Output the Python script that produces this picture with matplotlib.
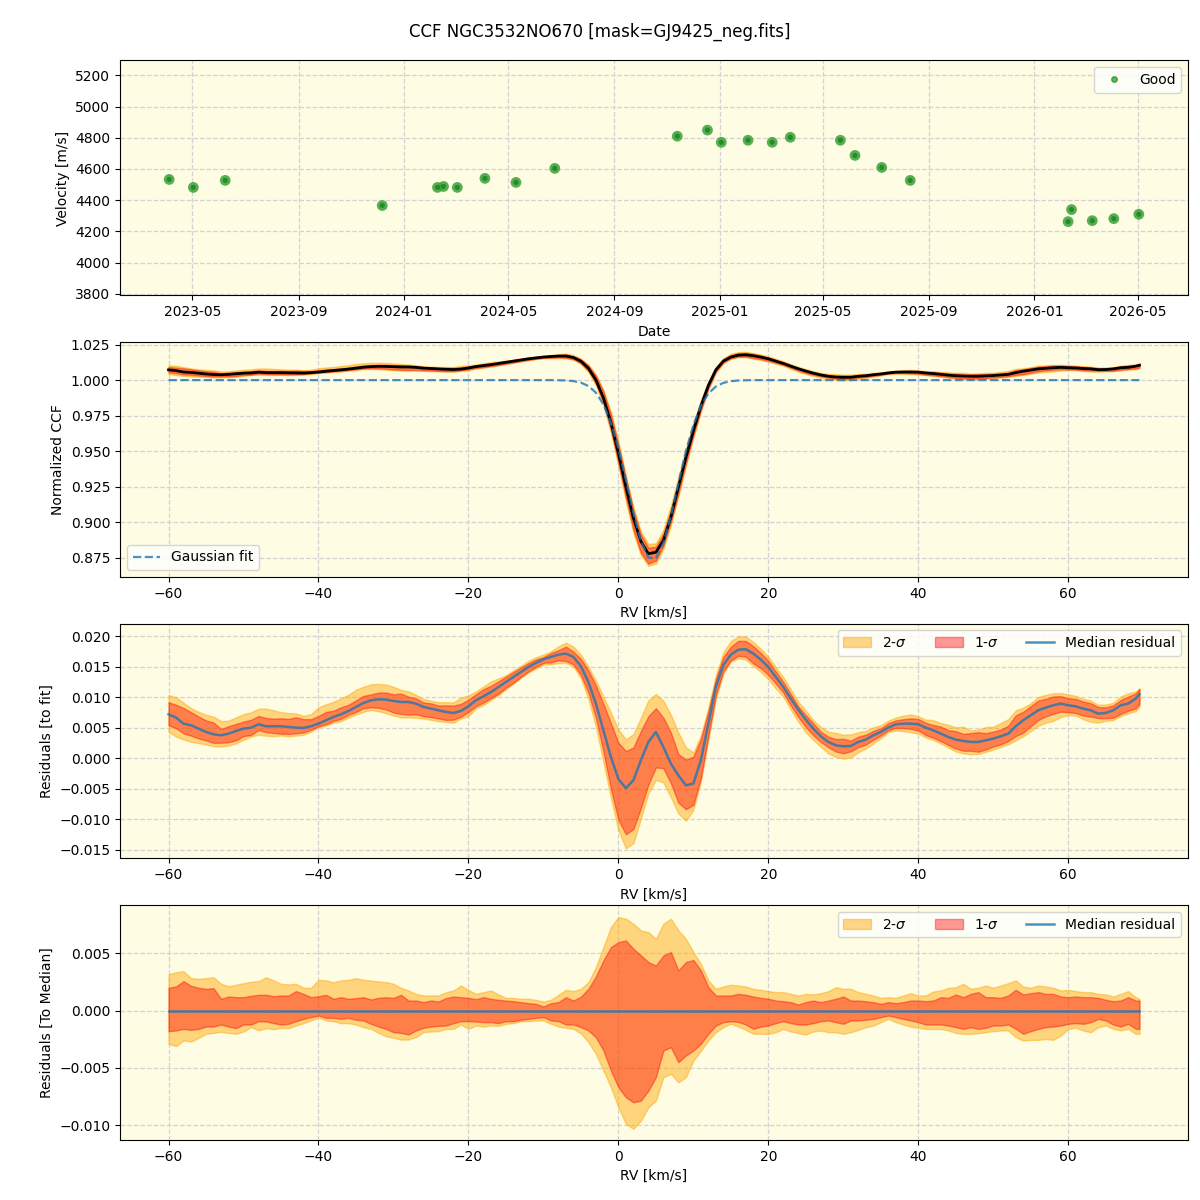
"""
CCF 진단 플롯 - 속도 시계열 + CCF + 잔차 (4단)
"""

import numpy as np
import matplotlib
matplotlib.use('Agg')
import matplotlib.pyplot as plt
import matplotlib.dates as mdates
from matplotlib.lines import Line2D

# ---- 패널 1: 시간별 시선속도 ----
obs_dates = ['2023-04-04', '2023-05-02', '2023-06-08', '2023-12-07', '2024-02-09',
             '2024-02-16', '2024-03-03', '2024-04-04', '2024-05-10', '2024-06-24',
             '2024-11-13', '2024-12-18', '2025-01-03', '2025-02-03', '2025-03-03',
             '2025-03-24', '2025-05-21', '2025-06-07', '2025-07-08', '2025-08-10',
             '2026-02-09', '2026-02-13', '2026-03-09', '2026-04-03', '2026-05-02']
obs_vel = [4533, 4482, 4527, 4366, 4482,
           4488, 4482, 4540, 4514, 4604,
           4810, 4849, 4771, 4784, 4771,
           4803, 4784, 4687, 4610, 4527,
           4263, 4340, 4269, 4282, 4310]

# ---- RV 격자 (km/s) ----
rv = np.append(np.arange(-60, 70, 1.0), 69.5)

# 가우시안 피팅 (연속체 1.0, 흡수선 부분만 값 기록)
fit_dip_rv = list(range(-8, 18))
fit_dip_val = [0.99992, 0.99975, 0.99930, 0.99822, 0.99585, 0.99120, 0.98299,
               0.97003, 0.95194, 0.92982, 0.90666, 0.88693, 0.87527, 0.87469,
               0.88534, 0.90445, 0.92749, 0.94988, 0.96845, 0.98191, 0.99055,
               0.99551, 0.99805, 0.99923, 0.99972, 0.99991]

# 중앙값 잔차 (x 1e-3)
median_resid = [
    7.21, 6.67, 5.68, 5.41, 4.86, 4.32, 3.93, 3.77, 4.04, 4.48,
    4.86, 5.03, 5.57, 5.25, 5.25, 5.25, 5.14, 5.03, 4.97, 5.25,
    5.68, 6.23, 6.78, 7.21, 7.76, 8.42, 9.07, 9.51, 9.67, 9.62,
    9.40, 9.23, 9.23, 8.96, 8.42, 8.14, 7.87, 7.60, 7.43, 7.76,
    8.52, 9.51, 10.16, 10.87, 11.69, 12.51, 13.33, 14.15, 14.97, 15.63,
    16.23, 16.61, 16.99, 17.16, 16.61, 15.10, 12.50, 8.96, 4.59, 0.22,
    -3.40, -4.90, -3.61, -0.33, 2.68, 4.30, 1.86, -0.87, -2.79, -4.43,
    -4.15, -0.33, 5.68, 11.69, 15.30, 17.00, 17.81, 17.87, 17.16, 16.17,
    14.97, 13.33, 11.69, 9.78, 7.98, 6.34, 4.86, 3.61, 2.68, 2.13,
    1.97, 2.02, 2.68, 3.06, 3.77, 4.32, 5.03, 5.57, 5.68, 5.68,
    5.57, 5.03, 4.59, 4.04, 3.50, 3.06, 2.84, 2.68, 2.68, 2.95,
    3.22, 3.61, 4.04, 5.25, 6.23, 7.05, 7.87, 8.31, 8.69, 8.96,
    8.69, 8.52, 8.14, 7.87, 7.32, 7.43, 7.87, 8.69, 8.96, 9.78,
    10.49]

# 중앙값 기준 분포 (x 1e-3): 2σ 상단, 1σ 상단, 1σ 하단, 2σ 하단
hi2 = [
    3.14, 3.34, 3.43, 2.82, 2.76, 2.82, 2.90, 2.33, 2.12, 2.24,
    2.38, 2.50, 2.56, 2.90, 2.62, 2.33, 2.27, 2.33, 1.98, 1.98,
    2.67, 2.62, 2.47, 2.62, 2.67, 2.82, 2.67, 2.62, 2.53, 2.47,
    2.33, 1.98, 1.74, 1.45, 1.31, 1.31, 1.31, 1.60, 1.74, 2.18,
    1.80, 1.45, 1.60, 1.74, 1.40, 1.10, 1.10, 1.02, 1.02, 0.93,
    0.78, 0.93, 1.37, 1.80, 1.69, 1.89, 2.47, 3.78, 5.52, 7.27,
    8.14, 8.00, 7.56, 6.98, 6.83, 6.25, 7.56, 8.00, 6.98, 6.25,
    5.09, 4.07, 2.62, 1.89, 2.09, 2.24, 2.18, 2.09, 1.89, 1.80,
    1.69, 1.60, 1.60, 1.45, 1.31, 1.45, 1.40, 1.51, 1.69, 2.03,
    1.89, 1.89, 1.60, 1.45, 1.31, 1.10, 1.16, 1.10, 1.31, 1.51,
    1.31, 1.31, 1.66, 1.74, 1.98, 2.03, 2.33, 1.89, 1.98, 2.18,
    1.98, 2.18, 2.38, 2.62, 2.09, 1.98, 2.18, 2.09, 1.98, 1.74,
    1.80, 1.69, 1.60, 1.60, 1.45, 1.40, 1.22, 1.45, 1.69, 1.16,
    1.02]
hi1 = [
    1.98, 2.10, 2.56, 2.15, 1.98, 1.89, 1.95, 1.02, 1.22, 1.16,
    1.16, 1.28, 1.37, 1.37, 1.25, 1.31, 1.31, 1.69, 1.45, 1.16,
    1.25, 1.37, 1.02, 1.16, 1.02, 1.08, 1.16, 0.96, 1.10, 1.16,
    1.10, 1.37, 0.87, 0.87, 0.73, 0.87, 0.78, 1.08, 1.22, 1.16,
    1.10, 0.99, 1.16, 1.02, 0.93, 0.87, 0.81, 0.73, 0.64, 0.58,
    0.35, 0.64, 0.73, 1.16, 0.87, 1.20, 1.89, 2.97, 4.36, 5.52,
    5.96, 6.10, 5.38, 4.80, 4.22, 3.92, 4.80, 5.09, 3.49, 4.22,
    4.40, 3.50, 2.03, 1.31, 1.31, 1.31, 1.45, 1.37, 1.22, 1.10,
    1.02, 0.87, 0.81, 0.73, 0.52, 0.73, 0.87, 0.73, 0.87, 1.02,
    1.22, 0.87, 0.87, 0.81, 0.73, 0.58, 0.73, 0.64, 0.73, 0.87,
    0.87, 0.81, 0.87, 1.16, 1.10, 1.40, 1.16, 1.45, 1.60, 1.16,
    1.16, 1.10, 1.31, 1.80, 1.40, 1.51, 1.60, 1.45, 1.45, 1.22,
    1.16, 1.22, 1.16, 1.16, 1.10, 0.93, 0.81, 0.87, 1.16, 0.87,
    0.87]
lo1 = [
    -1.80, -1.74, -1.60, -1.69, -1.60, -1.40, -1.40, -1.22, -1.40, -1.54,
    -1.22, -1.22, -0.93, -0.96, -1.10, -1.22, -1.16, -0.93, -0.73, -0.58,
    -0.44, -0.64, -0.64, -0.73, -0.64, -0.81, -0.87, -1.16, -1.40, -1.60,
    -1.89, -1.95, -2.09, -1.74, -1.51, -1.40, -1.34, -1.31, -1.10, -0.93,
    -0.93, -0.96, -1.02, -1.02, -1.10, -0.93, -0.93, -0.81, -0.73, -0.64,
    -0.58, -0.87, -0.93, -1.22, -1.22, -1.45, -1.74, -2.33, -3.49, -5.23,
    -6.69, -7.56, -8.00, -7.85, -6.98, -5.81, -3.49, -3.20, -4.50, -3.92,
    -3.49, -2.90, -2.03, -1.31, -1.02, -0.93, -1.00, -1.22, -1.60, -1.40,
    -1.31, -1.10, -0.93, -1.10, -1.22, -1.22, -1.10, -0.93, -0.87, -1.02,
    -1.16, -0.87, -0.87, -0.81, -0.73, -0.58, -0.44, -0.58, -0.73, -0.87,
    -1.02, -1.22, -1.22, -1.22, -1.31, -1.45, -1.60, -1.45, -1.60, -1.51,
    -1.31, -1.31, -1.22, -1.60, -2.03, -1.80, -1.60, -1.45, -1.40, -1.31,
    -1.16, -1.10, -1.16, -1.02, -0.73, -0.87, -1.22, -1.40, -1.16, -1.60,
    -1.60]
lo2 = [
    -2.90, -3.10, -2.60, -2.70, -2.38, -2.03, -1.95, -1.86, -1.95, -2.03,
    -1.83, -1.45, -1.72, -1.54, -1.63, -1.51, -1.54, -1.31, -1.10, -0.87,
    -0.60, -0.87, -0.93, -1.10, -1.10, -1.22, -1.45, -1.60, -1.95, -2.24,
    -2.38, -2.53, -2.53, -2.33, -1.89, -1.83, -1.80, -1.60, -1.60, -1.22,
    -1.60, -1.31, -1.40, -1.31, -1.34, -1.16, -1.10, -0.93, -0.93, -0.87,
    -0.87, -1.16, -1.40, -1.51, -1.60, -2.00, -2.76, -3.78, -5.23, -6.69,
    -8.43, -9.88, -10.30, -9.60, -8.43, -7.85, -5.81, -5.52, -6.25, -5.81,
    -4.36, -3.50, -2.62, -1.89, -1.45, -1.16, -1.40, -1.69, -2.03, -2.03,
    -2.03, -1.89, -1.60, -1.83, -1.98, -2.09, -1.83, -1.74, -1.89, -1.89,
    -2.03, -1.89, -1.69, -1.45, -1.31, -1.02, -0.73, -1.02, -1.22, -1.40,
    -1.51, -1.60, -1.60, -1.60, -1.74, -1.95, -2.03, -2.03, -1.98, -1.89,
    -1.80, -1.74, -1.74, -2.33, -2.62, -2.56, -2.56, -2.47, -2.56, -2.18,
    -1.60, -1.51, -1.74, -1.89, -1.45, -1.31, -1.60, -1.74, -1.60, -2.03,
    -2.03]

title = 'CCF NGC3532NO670 [mask=GJ9425_neg.fits]'

# ---- 배열 구성 ----
fit = np.ones(len(rv))
for r, v in zip(fit_dip_rv, fit_dip_val):
    fit[rv == r] = v
med = np.array(median_resid) * 1e-3
h2, h1 = np.array(hi2) * 1e-3, np.array(hi1) * 1e-3
l1, l2 = np.array(lo1) * 1e-3, np.array(lo2) * 1e-3
dates = np.array(obs_dates, dtype='datetime64[D]')

bg = '#fefce2'
c2, c1 = 'orange', 'red'
grid_kw = dict(color='lightgray', linestyle='--', linewidth=0.9)

fig, axes = plt.subplots(4, 1, figsize=(12, 12))
fig.subplots_adjust(left=0.1, right=0.99, top=0.9496, bottom=0.05, hspace=0.198)
fig.suptitle(title, fontsize=12, y=0.981)

for ax in axes:
    ax.set_facecolor(bg)
    ax.grid(True, **grid_kw)
    ax.set_axisbelow(True)

# 1) 속도 시계열
ax = axes[0]
ax.scatter(dates, obs_vel, s=60, color='#3aa23a', alpha=0.85, edgecolors='none', zorder=3)
ax.scatter(dates, obs_vel, s=14, color='#1c821c', alpha=0.8, edgecolors='none', zorder=4)
ax.legend(handles=[Line2D([], [], marker='o', linestyle='none', markersize=4,
                          color='green', alpha=0.6, label='Good')],
          loc='upper right')
ax.set_xlim(np.datetime64('2023-02-06'), np.datetime64('2026-06-28'))
ax.set_ylim(3790, 5295)
ax.set_yticks(np.arange(3800, 5201, 200))
ax.xaxis.set_major_locator(mdates.MonthLocator(bymonth=[1, 5, 9]))
ax.xaxis.set_major_formatter(mdates.DateFormatter('%Y-%m'))
ax.set_xlabel('Date')
ax.set_ylabel('Velocity [m/s]')

xlim_rv = (-66.475, 75.975)

# 2) 정규화 CCF
ax = axes[1]
ccf = fit + med
ax.fill_between(rv, ccf + l2, ccf + h2, color=c2, alpha=0.5)
ax.fill_between(rv, ccf + l1, ccf + h1, color=c1, alpha=0.4)
ax.plot(rv, ccf, color='black', linewidth=2)
ax.plot(rv, fit, color='tab:blue', linestyle='--', linewidth=1.6, alpha=0.8,
        label='Gaussian fit')
ax.legend(loc='lower left')
ax.set_xlim(*xlim_rv)
ax.set_ylim(0.8616, 1.0268)
ax.set_xlabel('RV [km/s]')
ax.set_ylabel('Normalized CCF')

# 3) 피팅 대비 잔차
ax = axes[2]
ax.fill_between(rv, med + l2, med + h2, color=c2, alpha=0.45, label='2-$\\sigma$')
ax.fill_between(rv, med + l1, med + h1, color=c1, alpha=0.4, label='1-$\\sigma$')
ax.plot(rv, med, color='tab:blue', linewidth=1.8, alpha=0.8, label='Median residual')
ax.legend(loc='upper right', ncol=3)
ax.set_xlim(*xlim_rv)
ax.set_ylim(-0.01643, 0.0221)
ax.set_xlabel('RV [km/s]')
ax.set_ylabel('Residuals [to fit]')

# 4) 중앙값 대비 잔차
ax = axes[3]
ax.fill_between(rv, l2, h2, color=c2, alpha=0.45, label='2-$\\sigma$')
ax.fill_between(rv, l1, h1, color=c1, alpha=0.4, label='1-$\\sigma$')
ax.plot(rv, np.zeros(len(rv)), color='tab:blue', linewidth=1.8, alpha=0.8,
        label='Median residual')
ax.legend(loc='upper right', ncol=3)
ax.set_xlim(*xlim_rv)
ax.set_ylim(-0.01128, 0.00919)
ax.set_yticks([-0.010, -0.005, 0.0, 0.005])
ax.set_xlabel('RV [km/s]')
ax.set_ylabel('Residuals [To Median]')

plt.savefig('out.png', dpi=100, facecolor='white')
plt.close(fig)
